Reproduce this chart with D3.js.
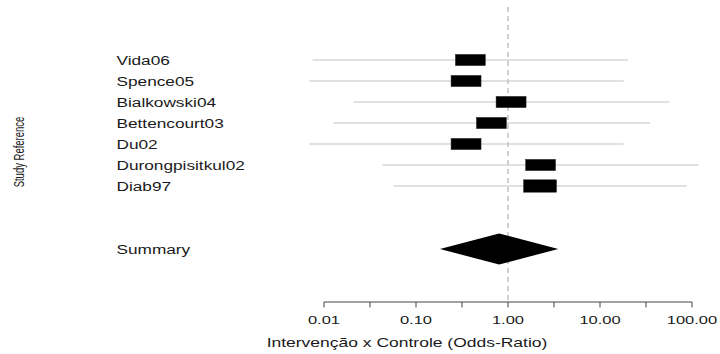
<!DOCTYPE html>
<html>
<head>
<meta charset="utf-8">
<script src="https://cdn.jsdelivr.net/npm/d3@7"></script>
<style>
  html, body { margin: 0; padding: 0; background: #fff; }
  svg { display: block; }
  text { font-family: "Liberation Sans", Arial, Helvetica, sans-serif; fill: #1a1a1a; }
</style>
</head>
<body>
<svg id="chart" width="720" height="354"></svg>
<script>
// ---- data ----
const studies = ["Vida06", "Spence05", "Bialkowski04", "Bettencourt03", "Du02", "Durongpisitkul02", "Diab97"];
const oddsRatio = [0.39, 0.35, 1.08, 0.66, 0.35, 2.26, 2.23];
const ciLower   = [0.0075, 0.0069, 0.0209, 0.0126, 0.0069, 0.043, 0.057];
const ciUpper   = [20.3, 18.1, 56.7, 34.9, 18.1, 118, 87.5];
const weights   = [1, 1, 1, 1, 1, 1, 1.1];
const summaryLabel = "Summary";
const summaryOR    = [0.182, 0.80, 3.52]; // lower, estimate, upper
const tickValues   = [0.01, 0.1, 1, 10, 100];
const minorTicks   = [0.0316, 0.316, 3.16, 31.6];
const xTitle = "Intervenção x Controle (Odds-Ratio)";
const yTitle = "Study Reference";

// ---- layout ----
const svg = d3.select("#chart");
const x = d3.scaleLog().domain([0.01, 100]).range([324, 692]);
const y = d3.scaleLinear().domain([1, 10]).range([60, 249]);
const axisY = 302;
const SX = 1.38; // horizontal stretch of the original text

// null line
svg.append("line")
  .attr("x1", x(1)).attr("x2", x(1))
  .attr("y1", 7).attr("y2", axisY)
  .attr("stroke", "#cccccc").attr("stroke-width", 1.8)
  .attr("stroke-dasharray", "5,4");

// CI lines
const rows = studies.map((s, i) => ({ s, or: oddsRatio[i], lo: ciLower[i], hi: ciUpper[i], w: weights[i], r: i + 1 }));
svg.append("g").selectAll("line").data(rows).join("line")
  .attr("x1", d => x(d.lo)).attr("x2", d => x(d.hi))
  .attr("y1", d => y(d.r)).attr("y2", d => y(d.r))
  .attr("stroke", "#c4c4c4").attr("stroke-width", 1.1);

// boxes
const boxW = 30, boxH = 11.3;
svg.append("g").selectAll("rect").data(rows).join("rect")
  .attr("x", d => x(d.or) - boxW * d.w / 2)
  .attr("y", d => y(d.r) - boxH * d.w / 2)
  .attr("width", d => boxW * d.w)
  .attr("height", d => boxH * d.w)
  .attr("fill", "#000").attr("stroke", "#333").attr("stroke-width", 0.5);

// summary diamond
const sy = y(10);
svg.append("path")
  .attr("d", d3.line()([
    [x(summaryOR[0]), sy],
    [x(summaryOR[1]), sy - 15.5],
    [x(summaryOR[2]), sy],
    [x(summaryOR[1]), sy + 15.5]
  ]) + "Z")
  .attr("fill", "#000");

// study labels
const labels = svg.append("g");
rows.forEach(d => {
  labels.append("text")
    .attr("transform", `translate(116.5,${y(d.r)}) scale(${SX},1)`)
    .attr("dy", "0.36em").attr("font-size", 12.5)
    .text(d.s);
});
labels.append("text")
  .attr("transform", `translate(116.5,${sy}) scale(${SX},1)`)
  .attr("dy", "0.36em").attr("font-size", 12.5)
  .text(summaryLabel);

// x axis
const ax = svg.append("g");
ax.append("line")
  .attr("x1", x(0.01)).attr("x2", x(100))
  .attr("y1", axisY).attr("y2", axisY)
  .attr("stroke", "#444").attr("stroke-width", 1);
ax.selectAll("line.tick").data(tickValues.concat(minorTicks)).join("line")
  .attr("class", "tick")
  .attr("x1", d => x(d)).attr("x2", d => x(d))
  .attr("y1", axisY).attr("y2", axisY + 5.5)
  .attr("stroke", "#444").attr("stroke-width", 1);
tickValues.forEach(v => {
  ax.append("text")
    .attr("transform", `translate(${x(v)},${320}) scale(1.65,1)`)
    .attr("text-anchor", "middle").attr("dy", "0.36em")
    .attr("font-size", 10)
    .text(d3.format(".2f")(v));
});

// axis titles
svg.append("text")
  .attr("transform", `translate(407,342) scale(1.4,1)`)
  .attr("text-anchor", "middle").attr("dy", "0.36em")
  .attr("font-size", 12.5)
  .text(xTitle);

svg.append("text")
  .attr("transform", `translate(19,152) rotate(-90) scale(1,1.55)`)
  .attr("text-anchor", "middle").attr("dy", "0.36em")
  .attr("font-size", 9.5)
  .style("font-family", '"Liberation Sans Narrow", "Arial Narrow", sans-serif')
  .text(yTitle);
</script>
</body>
</html>
